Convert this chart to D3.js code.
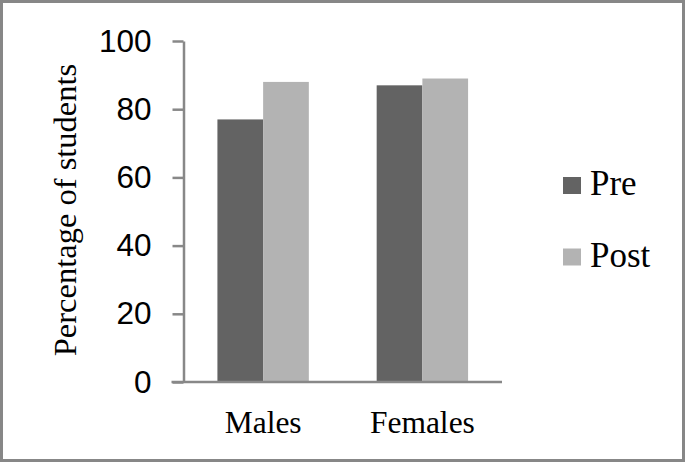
<!DOCTYPE html>
<html>
<head>
<meta charset="utf-8">
<script src="https://cdn.jsdelivr.net/npm/d3@7"></script>
<style>
  html, body { margin: 0; padding: 0; background: #fff; }
  svg { display: block; }
</style>
</head>
<body>
<svg id="chart" width="685" height="462"></svg>
<script>
const categories = ["Males", "Females"];
const seriesNames = ["Pre", "Post"];
const preValues = [77, 87];
const postValues = [88, 89];
const yTicks = [0, 20, 40, 60, 80, 100];
const colors = ["#636363", "#b3b3b3"];

(function () {
const svg = d3.select("#chart");
const W = 685, H = 462;

svg.append("rect").attr("x", 1.5).attr("y", 1.5).attr("width", W - 3).attr("height", H - 3)
  .attr("fill", "#fff").attr("stroke", "#878787").attr("stroke-width", 3);

const pLeft = 183.5, pRight = 502, pTop = 41, pBottom = 382;

const x0 = d3.scaleBand().domain(categories).range([pLeft, pRight]).paddingInner(0.426).paddingOuter(0.213);
const x1 = d3.scaleBand().domain(seriesNames).range([0, x0.bandwidth()]);
const y = d3.scaleLinear().domain([0, 100]).range([pBottom, pTop]);

const data = categories.map((c, i) => ({ cat: c, vals: [preValues[i], postValues[i]] }));

const groups = svg.append("g").selectAll("g").data(data).join("g")
  .attr("transform", d => `translate(${x0(d.cat)},0)`);
groups.selectAll("rect").data(d => d.vals.map((v, j) => ({ key: seriesNames[j], v, j })))
  .join("rect")
  .attr("x", d => x1(d.key))
  .attr("width", x1.bandwidth())
  .attr("y", d => y(d.v))
  .attr("height", d => y(0) - y(d.v))
  .attr("fill", d => colors[d.j]);

// Y axis
const yAxis = d3.axisLeft(y).tickValues(yTicks).tickSize(11).tickPadding(21).tickSizeOuter(0);
const yg = svg.append("g").attr("transform", `translate(${pLeft},0)`).call(yAxis);
yg.select(".domain").attr("stroke", "#888").attr("stroke-width", 2.5);
yg.selectAll(".tick line").attr("stroke", "#888").attr("stroke-width", 2.5);
yg.selectAll(".tick text").attr("font-family", "'Liberation Sans', Arial, sans-serif")
  .attr("font-size", 31.5).attr("fill", "#000");

// X axis
const xAxis = d3.axisBottom(x0).tickSize(0).tickPadding(29);
const xg = svg.append("g").attr("transform", `translate(0,${pBottom})`).call(xAxis);
xg.select(".domain").attr("stroke", "#888").attr("stroke-width", 2.5)
  .attr("d", `M${pLeft - 12},0H${pRight}`);
xg.selectAll(".tick text").attr("font-family", "'Liberation Serif', 'Times New Roman', serif")
  .attr("font-size", 31.5).attr("fill", "#000");

// Y axis title
svg.append("text")
  .attr("transform", `translate(76,${(63 + 357) / 2}) rotate(-90)`)
  .attr("text-anchor", "middle")
  .attr("font-family", "'Liberation Serif', 'Times New Roman', serif")
  .attr("font-size", 32.5)
  .attr("fill", "#000")
  .text("Percentage of students");

// Legend
const legend = svg.append("g").selectAll("g").data(seriesNames).join("g")
  .attr("transform", (d, i) => `translate(563,${177 + i * 71.5})`);
legend.append("rect").attr("width", 18).attr("height", 17).attr("fill", (d, i) => colors[i]);
legend.append("text").attr("x", 27).attr("y", 18)
  .attr("font-family", "'Liberation Serif', 'Times New Roman', serif")
  .attr("font-size", 35).attr("fill", "#000").text(d => d);
})();
</script>
</body>
</html>
